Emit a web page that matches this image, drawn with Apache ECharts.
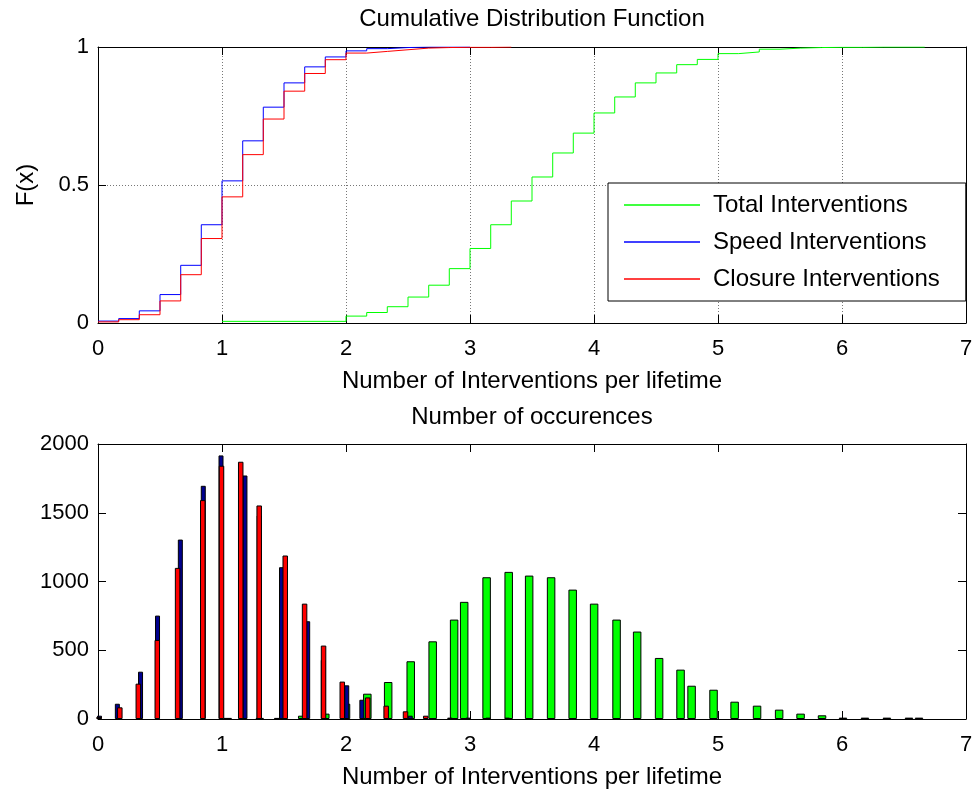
<!DOCTYPE html>
<html><head><meta charset="utf-8">
<script src="https://cdn.jsdelivr.net/npm/echarts@6/dist/echarts.min.js"></script>
<style>html,body{margin:0;padding:0;background:#fff}#c{width:976px;height:793px}</style>
</head><body><div id="c"></div>
<script>
// ---------- data ----------
const seriesNames = ['Total Interventions', 'Speed Interventions', 'Closure Interventions'];

// CDF (top panel): value holds from x[i] to x[i+1]
const totalCdfX = [1.0, 2.0, 2.167, 2.333, 2.5, 2.667, 2.833, 3.0, 3.167, 3.333, 3.5, 3.667, 3.833, 4.0, 4.167, 4.333, 4.5, 4.667, 4.833, 5.0, 5.167, 5.333, 5.5, 5.667, 5.833, 6.0, 6.167, 6.333, 6.5, 6.667];
const totalCdfF = [0.006, 0.025, 0.038, 0.059, 0.094, 0.137, 0.197, 0.270, 0.356, 0.442, 0.529, 0.616, 0.688, 0.761, 0.819, 0.870, 0.906, 0.936, 0.955, 0.976, 0.982, 0.992, 0.996, 0.998, 0.999, 0.999, 1.0, 1.0, 1.0, 1.0];
const speedCdfX = [0, 0.167, 0.333, 0.5, 0.667, 0.833, 1.0, 1.167, 1.333, 1.5, 1.667, 1.833, 2.0, 2.167, 2.333, 2.5, 2.667, 2.833, 3.0];
const speedCdfF = [0.007, 0.016, 0.044, 0.103, 0.209, 0.356, 0.515, 0.660, 0.782, 0.870, 0.928, 0.964, 0.986, 0.994, 0.998, 1.0, 1.0, 1.0, 1.0];
const closureCdfX = [0, 0.167, 0.333, 0.5, 0.667, 0.833, 1.0, 1.167, 1.333, 1.5, 1.667, 1.833, 2.0, 2.167, 2.333, 2.5, 2.667, 2.833, 3.0, 3.167, 3.333];
const closureCdfF = [0.004, 0.012, 0.030, 0.080, 0.175, 0.306, 0.457, 0.610, 0.739, 0.840, 0.904, 0.954, 0.978, 0.984, 0.990, 0.996, 0.998, 0.999, 0.999, 1.0, 1.0];

// Occurrence counts (bottom panel)
const totalBarX = [1.046, 1.304, 1.453, 1.647, 1.833, 2.000, 2.172, 2.340, 2.522, 2.699, 2.872, 2.953, 3.134, 3.312, 3.477, 3.654, 3.828, 4.001, 4.182, 4.348, 4.525, 4.698, 4.787, 4.964, 5.134, 5.315, 5.493, 5.666, 5.839, 6.008, 6.185, 6.362, 6.540, 6.621];
const totalBarY = [8, 8, 8, 24, 39, 111, 184, 269, 420, 565, 723, 852, 1031, 1070, 1043, 1031, 941, 839, 723, 636, 444, 359, 242, 213, 126, 97, 68, 39, 27, 10, 10, 10, 10, 10];
const speedBarX = [0.012, 0.156, 0.343, 0.480, 0.664, 0.849, 0.992, 1.185, 1.300, 1.480, 1.691, 1.817, 2.006, 2.128, 2.518];
const speedBarY = [24, 111, 344, 752, 1305, 1696, 1917, 1771, 1480, 1104, 711, 430, 245, 140, 24];
const closureBarX = [0.008, 0.176, 0.325, 0.478, 0.642, 0.845, 0.996, 1.151, 1.300, 1.510, 1.666, 1.819, 1.970, 2.175, 2.324, 2.480, 2.643, 2.838, 2.985, 3.147, 3.300];
const closureBarY = [15, 85, 257, 575, 1099, 1592, 1842, 1871, 1553, 1189, 839, 534, 272, 157, 97, 56, 24, 10, 10, 10, 10];

const xTickValues = [0, 1, 2, 3, 4, 5, 6, 7];
const cdfTicks = [0, 0.5, 1];
const countTicks = [0, 500, 1000, 1500, 2000];

// ---------- chart ----------
const FONT = "'Liberation Sans', Arial, Helvetica, sans-serif";
const pairs = (xs, ys) => xs.map((x, i) => [x, ys[i]]);

const axisLine = { show: true, onZero: false, lineStyle: { color: '#000', width: 1 } };
const tick = { show: true, inside: true, length: 8, lineStyle: { color: '#000', width: 1 } };
const lbl = { color: '#000', fontSize: 22, fontFamily: FONT, formatter: v => String(v) };
const dotted = { show: true, lineStyle: { color: '#777', type: [1, 2], width: 1 } };

function xAx(grid, opts) {
  return Object.assign({
    type: 'value', gridIndex: grid, min: xTickValues[0], max: xTickValues[xTickValues.length - 1],
    interval: xTickValues[1] - xTickValues[0], axisLine, axisTick: tick,
    axisLabel: Object.assign({ margin: 15 }, lbl), splitLine: { show: false }
  }, opts);
}
function yAx(grid, ticks, opts) {
  return Object.assign({
    type: 'value', gridIndex: grid, min: ticks[0], max: ticks[ticks.length - 1],
    interval: ticks[1] - ticks[0], axisLine, axisTick: tick,
    axisLabel: Object.assign({ margin: 9 }, lbl), splitLine: { show: false }
  }, opts);
}

const nameStyle = { color: '#000', fontSize: 24, fontFamily: FONT };

const option = {
  animation: false,
  backgroundColor: '#fff',
  textStyle: { fontFamily: FONT },
  grid: [
    { left: 98, right: 10, top: 47, height: 276 },
    { left: 98, right: 10, top: 444, height: 275 }
  ],
  xAxis: [
    xAx(0, { splitLine: dotted, name: 'Number of Interventions per lifetime', nameLocation: 'middle', nameGap: 46, nameTextStyle: nameStyle }),
    xAx(0, { position: 'top', axisLabel: { show: false } }),
    xAx(1, { name: 'Number of Interventions per lifetime', nameLocation: 'middle', nameGap: 46, nameTextStyle: nameStyle }),
    xAx(1, { show: false }),
    xAx(1, { show: false }),
    xAx(1, { position: 'top', axisLabel: { show: false } })
  ],
  yAxis: [
    yAx(0, cdfTicks, { splitLine: dotted, name: 'F(x)', nameLocation: 'middle', nameGap: 60, nameTextStyle: nameStyle }),
    yAx(0, cdfTicks, { position: 'right', axisLabel: { show: false } }),
    yAx(1, countTicks, {}),
    yAx(1, countTicks, { position: 'right', axisLabel: { show: false } })
  ],
  legend: {
    data: seriesNames,
    orient: 'vertical',
    left: 608, top: 183,
    padding: [10, 26, 10, 16],
    itemGap: 13,
    icon: 'rect',
    itemWidth: 76, itemHeight: 1.5,
    backgroundColor: '#fff',
    borderColor: '#000', borderWidth: 1, borderRadius: 0,
    textStyle: { color: '#000', fontSize: 24, fontFamily: FONT, padding: [0, 0, 0, 8], lineHeight: 24 },
    selectedMode: false
  },
  graphic: [
    { type: 'text', style: { text: 'Cumulative Distribution Function', fill: '#000', font: '24px ' + FONT, x: 532, y: 19, textAlign: 'center', textVerticalAlign: 'middle' } },
    { type: 'text', style: { text: 'Number of occurences', fill: '#000', font: '24px ' + FONT, x: 532, y: 417, textAlign: 'center', textVerticalAlign: 'middle' } }
  ],
  series: [
    { name: seriesNames[0], type: 'line', step: 'end', xAxisIndex: 0, yAxisIndex: 0, symbol: 'none',
      lineStyle: { color: '#00ff00', width: 1 }, itemStyle: { color: '#00ff00' }, data: pairs(totalCdfX, totalCdfF) },
    { name: seriesNames[1], type: 'line', step: 'end', xAxisIndex: 0, yAxisIndex: 0, symbol: 'none',
      lineStyle: { color: '#0000ff', width: 1 }, itemStyle: { color: '#0000ff' }, data: pairs(speedCdfX, speedCdfF) },
    { name: seriesNames[2], type: 'line', step: 'end', xAxisIndex: 0, yAxisIndex: 0, symbol: 'none',
      lineStyle: { color: '#ff0000', width: 1 }, itemStyle: { color: '#ff0000' }, data: pairs(closureCdfX, closureCdfF) },
    { name: 'Total count', type: 'bar', xAxisIndex: 2, yAxisIndex: 2, barWidth: 8.5,
      itemStyle: { color: '#00ff00', borderColor: '#000', borderWidth: 1 }, data: pairs(totalBarX, totalBarY) },
    { name: 'Speed count', type: 'bar', xAxisIndex: 3, yAxisIndex: 2, barWidth: 5,
      itemStyle: { color: '#00008f', borderColor: '#000', borderWidth: 1 }, data: pairs(speedBarX, speedBarY) },
    { name: 'Closure count', type: 'bar', xAxisIndex: 4, yAxisIndex: 2, barWidth: 5.5,
      itemStyle: { color: '#ff0000', borderColor: '#000', borderWidth: 1 }, data: pairs(closureBarX, closureBarY) }
  ]
};

const chart = echarts.init(document.getElementById('c'), null, { renderer: 'canvas' });
chart.setOption(option);
</script>
</body></html>
